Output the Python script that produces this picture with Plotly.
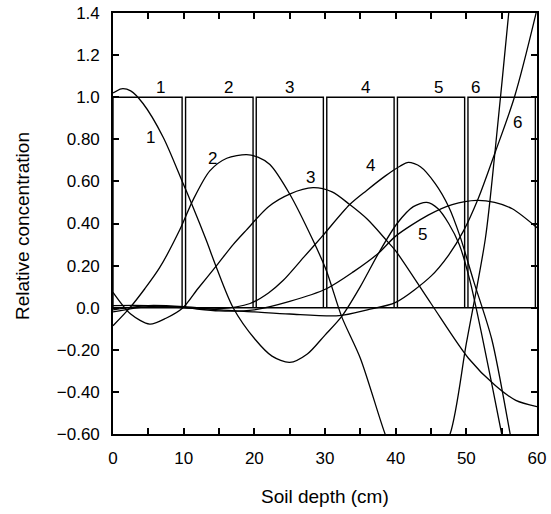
import plotly.graph_objects as go

# ---- data ----
layer_left = [0.0, 10.27, 20.27, 30.25, 40.25, 50.23]
layer_right = [9.78, 19.82, 29.77, 39.78, 49.76, 59.77]
layer_height = [1.0, 1.0, 1.0, 1.0, 1.0, 1.0]
layer_names = ["1", "2", "3", "4", "5", "6"]
layer_label_x = [6.7, 16.3, 25.0, 35.7, 46.0, 51.25]
layer_label_y = [1.045, 1.045, 1.045, 1.045, 1.045, 1.045]

c1_x = [0, 1.2, 2.5, 4.25, 7.1, 9.8, 11.3, 13.2, 14.65, 17.0, 20.1, 22.5, 25.0, 27.5, 30.0, 32.4, 35.0, 37.6, 40.2, 42.5, 44.4, 46.0, 47.5, 49.0, 50.5, 52.2, 55.0, 56.0]
c1_y = [1.02, 1.04, 1.03, 0.97, 0.81, 0.60, 0.48, 0.32, 0.19, 0.0, -0.15, -0.23, -0.26, -0.22, -0.13, -0.04, 0.10, 0.26, 0.40, 0.48, 0.50, 0.47, 0.40, 0.30, 0.13, -0.13, -0.60, -0.78]

c2_x = [0, 2.4, 4.5, 6.6, 9.45, 11.3, 13.7, 16.1, 18.9, 20.5, 22.2, 25.0, 28.3, 30.2, 32.4, 35.0, 38.5, 40.0, 42.5, 45.0, 47.7, 50.0, 52.7, 54.1, 56.0, 57.0]
c2_y = [-0.086, 0.0, 0.09, 0.19, 0.37, 0.51, 0.65, 0.71, 0.727, 0.715, 0.68, 0.54, 0.32, 0.176, -0.046, -0.24, -0.60, -0.72, -0.82, -0.77, -0.60, -0.17, 0.33, 0.755, 1.40, 1.75]

c3_x = [0, 2.5, 5.2, 7.5, 9.9, 12.0, 14.65, 17.0, 18.9, 22.0, 25.0, 28.3, 31.0, 33.5, 36.0, 38.7, 40.0, 45.0, 50.3, 54.1, 57.0, 60.0]
c3_y = [0.073, -0.03, -0.078, -0.05, 0.0, 0.09, 0.20, 0.30, 0.37, 0.48, 0.54, 0.57, 0.55, 0.49, 0.42, 0.32, 0.27, 0.02, -0.24, -0.37, -0.44, -0.47]

c4_x = [0, 5, 10, 15, 19.4, 22.0, 24.1, 27.0, 29.5, 33.5, 35.9, 38.5, 40.6, 41.8, 43.5, 45.6, 47.5, 49.1, 51.0, 53.6, 56.2, 57.0]
c4_y = [-0.02, 0.005, 0.0, -0.005, 0.02, 0.07, 0.13, 0.24, 0.335, 0.49, 0.557, 0.625, 0.672, 0.69, 0.67, 0.59, 0.48, 0.34, 0.13, -0.15, -0.60, -0.75]

c5_x = [0, 5, 10, 15, 20, 25, 30.2, 34.0, 37.6, 40.0, 44.6, 48.0, 51.5, 54.0, 56.5, 60.0]
c5_y = [0.01, 0.01, 0.0, -0.015, -0.01, 0.03, 0.09, 0.17, 0.26, 0.34, 0.44, 0.49, 0.51, 0.50, 0.47, 0.38]

c6_x = [0, 5, 10, 15, 20, 25, 32.0, 36.0, 40.0, 45.0, 47.5, 49.6, 51.7, 54.1, 56.8, 59.8, 60.0]
c6_y = [-0.01, 0.01, 0.005, -0.01, -0.02, -0.03, -0.038, -0.01, 0.025, 0.15, 0.25, 0.365, 0.52, 0.74, 1.0, 1.39, 1.42]

curve_label_x = [5.3, 14.1, 28.0, 36.5, 43.8, 57.25]
curve_label_y = [0.81, 0.71, 0.62, 0.676, 0.35, 0.88]

x_ticks = [0, 5, 10, 15, 20, 25, 30, 35, 40, 45, 50, 55, 60]
x_tick_text = ["0", "", "10", "", "20", "", "30", "", "40", "", "50", "", "60"]
y_ticks = [-0.6, -0.4, -0.2, 0.0, 0.2, 0.4, 0.6, 0.8, 1.0, 1.2, 1.4]
y_tick_text = ["\u22120.60", "\u22120.40", "\u22120.20", "0.0", "0.20", "0.40", "0.60", "0.80", "1.0", "1.2", "1.4"]

FONT = "Liberation Sans, Arial, sans-serif"

fig = go.Figure()

# layer boxes
bx, by = [], []
for L, R, H in zip(layer_left, layer_right, layer_height):
    bx += [L, L, R, R, None]
    by += [0, H, H, 0, None]
bx += [layer_left[0], x_ticks[-1]]
by += [0, 0]
fig.add_trace(go.Scatter(x=bx, y=by, mode="lines", line=dict(color="black", width=1.4),
                         hoverinfo="skip", showlegend=False))

for cx, cy in [(c1_x, c1_y), (c2_x, c2_y), (c3_x, c3_y), (c4_x, c4_y), (c5_x, c5_y), (c6_x, c6_y)]:
    fig.add_trace(go.Scatter(x=cx, y=cy, mode="lines",
                             line=dict(color="black", width=1.3, shape="spline", smoothing=0.8),
                             showlegend=False))

for name, lx, ly in zip(layer_names, layer_label_x, layer_label_y):
    fig.add_annotation(x=lx, y=ly, text=name, showarrow=False,
                       font=dict(family=FONT, size=17, color="black"))
for name, lx, ly in zip(layer_names, curve_label_x, curve_label_y):
    fig.add_annotation(x=lx, y=ly, text=name, showarrow=False,
                       font=dict(family=FONT, size=17, color="black"))

fig.add_annotation(xref="paper", yref="paper", x=0.5, y=-0.1496, text="Soil depth (cm)",
                   showarrow=False, font=dict(family=FONT, size=19, color="black"),
                   xanchor="center", yanchor="middle")
fig.add_annotation(xref="paper", yref="paper", x=-0.2146, y=0.494, text="Relative concentration",
                   showarrow=False, textangle=-90, font=dict(family=FONT, size=19, color="black"),
                   xanchor="center", yanchor="middle")

fig.update_layout(
    width=551, height=514,
    margin=dict(l=113, r=14, t=13, b=80, autoexpand=False),
    paper_bgcolor="white", plot_bgcolor="white",
    font=dict(family=FONT, size=17, color="black"),
    xaxis=dict(range=[0, 60], tickvals=x_ticks, ticktext=x_tick_text, ticks="inside", ticklen=6,
               tickwidth=1.5, tickcolor="black", showline=True, linecolor="black", linewidth=1.6,
               mirror="ticks", showgrid=False, zeroline=False, ticklabelstandoff=8, automargin=False,
               tickfont=dict(family=FONT, size=17, color="black")),
    yaxis=dict(range=[-0.6, 1.4], tickvals=y_ticks, ticktext=y_tick_text, ticks="inside", ticklen=6,
               tickwidth=1.5, tickcolor="black", showline=True, linecolor="black", linewidth=1.6,
               mirror="ticks", showgrid=False, zeroline=False, ticklabelstandoff=8, automargin=False,
               tickfont=dict(family=FONT, size=17, color="black")),
)

fig.write_html("out.html")
